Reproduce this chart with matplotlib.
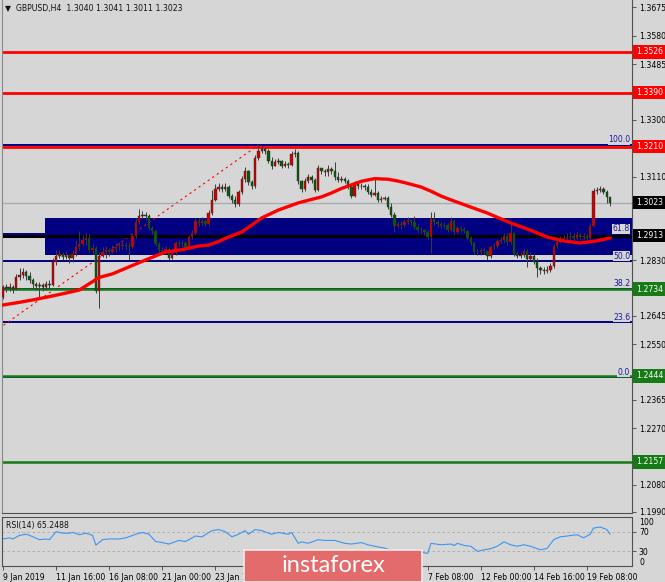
import matplotlib.pyplot as plt
from matplotlib.patches import Rectangle

W, H = 665, 582
BG = '#d6d6d6'

# H4 candles, one entry per bar (bar 0 = 9 Jan 2019 00:00)
first_open = 1.2708
closes = [1.2741, 1.2738, 1.2741, 1.2734, 1.2775, 1.2781, 1.2791, 1.2778, 1.2764, 1.2751,
          1.2744, 1.2748, 1.2741, 1.2751, 1.2748, 1.2825, 1.2845, 1.2851, 1.2841, 1.2848,
          1.2838, 1.2851, 1.2875, 1.2885, 1.2898, 1.2905, 1.2865, 1.2871, 1.2728, 1.2845,
          1.2858, 1.2865, 1.2858, 1.2868, 1.2875, 1.2878, 1.2881, 1.2878, 1.2875, 1.2911,
          1.2958, 1.2978, 1.2982, 1.2978, 1.2938, 1.2928, 1.2885, 1.2865, 1.2861, 1.2868,
          1.2838, 1.2855, 1.2888, 1.2885, 1.2888, 1.2871, 1.2908, 1.2921, 1.2962, 1.2955,
          1.2962, 1.2951, 1.2988, 1.3032, 1.3068, 1.3075, 1.3068, 1.3075, 1.3045, 1.3032,
          1.3018, 1.3058, 1.3102, 1.3128, 1.3092, 1.3078, 1.3172, 1.3195, 1.3202, 1.3195,
          1.3162, 1.3145, 1.3159, 1.3162, 1.3145, 1.3152, 1.3149, 1.3185, 1.3189, 1.3095,
          1.3068, 1.3095, 1.3108, 1.3098, 1.3065, 1.3138, 1.3128, 1.3125, 1.3135, 1.3128,
          1.3108, 1.3098, 1.3102, 1.3095, 1.3075, 1.3045, 1.3085, 1.3078, 1.3078, 1.3075,
          1.3058, 1.3048, 1.3055, 1.3032, 1.3035, 1.3038, 1.3008, 1.2982, 1.2945, 1.2951,
          1.2948, 1.2958, 1.2965, 1.2958, 1.2941, 1.2931, 1.2931, 1.2925, 1.2908, 1.2968,
          1.2958, 1.2951, 1.2945, 1.2948, 1.2931, 1.2962, 1.2925, 1.2938, 1.2935, 1.2928,
          1.2905, 1.2888, 1.2858, 1.2858, 1.2865, 1.2861, 1.2845, 1.2875, 1.2878, 1.2895,
          1.2898, 1.2911, 1.2891, 1.2921, 1.2851, 1.2845, 1.2848, 1.2861, 1.2835, 1.2845,
          1.2825, 1.2805, 1.2798, 1.2795, 1.2798, 1.2811, 1.2878, 1.2891, 1.2901, 1.2905,
          1.2908, 1.2911, 1.2905, 1.2915, 1.2908, 1.2911, 1.2905, 1.2945, 1.3062, 1.3065,
          1.3068, 1.3058, 1.3042, 1.3023]
highs = [1.2748, 1.2751, 1.2754, 1.2748, 1.2785, 1.2805, 1.2805, 1.2798, 1.2791, 1.2771,
         1.2758, 1.2758, 1.2754, 1.2761, 1.2764, 1.2838, 1.2865, 1.2865, 1.2858, 1.2861,
         1.2851, 1.2865, 1.2898, 1.2928, 1.2915, 1.2921, 1.2918, 1.2885, 1.2878, 1.2858,
         1.2875, 1.2878, 1.2871, 1.2881, 1.2888, 1.2891, 1.2895, 1.2891, 1.2891, 1.2921,
         1.2972, 1.3002, 1.2995, 1.2992, 1.2985, 1.2945, 1.2931, 1.2891, 1.2875, 1.2878,
         1.2875, 1.2861, 1.2895, 1.2898, 1.2898, 1.2895, 1.2915, 1.2931, 1.2972, 1.2972,
         1.2975, 1.2968, 1.2998, 1.3065, 1.3085, 1.3088, 1.3085, 1.3088, 1.3082, 1.3052,
         1.3045, 1.3065, 1.3112, 1.3142, 1.3132, 1.3098, 1.3182, 1.3215, 1.3212, 1.3209,
         1.3202, 1.3175, 1.3168, 1.3172, 1.3165, 1.3162, 1.3158, 1.3195, 1.3202, 1.3195,
         1.3098, 1.3105, 1.3118, 1.3115, 1.3105, 1.3148, 1.3138, 1.3135, 1.3148, 1.3142,
         1.3158, 1.3125, 1.3112, 1.3108, 1.3102, 1.3085, 1.3095, 1.3088, 1.3088, 1.3085,
         1.3085, 1.3068, 1.3105, 1.3062, 1.3045, 1.3045, 1.3045, 1.3022, 1.2992, 1.2962,
         1.2962, 1.2968, 1.2975, 1.2968, 1.2978, 1.2951, 1.2941, 1.2935, 1.2931, 1.2992,
         1.2992, 1.2965, 1.2958, 1.2958, 1.2955, 1.2975, 1.2968, 1.2945, 1.2945, 1.2941,
         1.2931, 1.2911, 1.2895, 1.2868, 1.2871, 1.2871, 1.2865, 1.2881, 1.2888, 1.2901,
         1.2908, 1.2921, 1.2921, 1.2958, 1.2925, 1.2861, 1.2858, 1.2868, 1.2868, 1.2858,
         1.2851, 1.2838, 1.2811, 1.2808, 1.2811, 1.2821, 1.2885, 1.2898, 1.2911, 1.2915,
         1.2921, 1.2925, 1.2921, 1.2925, 1.2921, 1.2921, 1.2918, 1.2955, 1.3072, 1.3075,
         1.3078, 1.3075, 1.3065, 1.3041]
lows = [1.2701, 1.2724, 1.2728, 1.2721, 1.2731, 1.2764, 1.2771, 1.2764, 1.2754, 1.2738,
        1.2731, 1.2708, 1.2728, 1.2731, 1.2738, 1.2744, 1.2815, 1.2838, 1.2831, 1.2835,
        1.2821, 1.2825, 1.2845, 1.2865, 1.2878, 1.2881, 1.2858, 1.2851, 1.2721, 1.2671,
        1.2841, 1.2838, 1.2845, 1.2855, 1.2858, 1.2865, 1.2868, 1.2865, 1.2831, 1.2871,
        1.2905, 1.2951, 1.2968, 1.2965, 1.2931, 1.2918, 1.2878, 1.2855, 1.2851, 1.2855,
        1.2831, 1.2835, 1.2848, 1.2875, 1.2875, 1.2865, 1.2865, 1.2901, 1.2915, 1.2945,
        1.2948, 1.2945, 1.2945, 1.2982, 1.3028, 1.3062, 1.3058, 1.3062, 1.3038, 1.3022,
        1.3008, 1.3012, 1.3052, 1.3092, 1.3082, 1.3068, 1.3072, 1.3165, 1.3189, 1.3185,
        1.3155, 1.3135, 1.3145, 1.3152, 1.3138, 1.3142, 1.3138, 1.3145, 1.3175, 1.3085,
        1.3058, 1.3062, 1.3088, 1.3088, 1.3058, 1.3062, 1.3118, 1.3112, 1.3112, 1.3118,
        1.3098, 1.3092, 1.3092, 1.3088, 1.3068, 1.3038, 1.3042, 1.3068, 1.3068, 1.3065,
        1.3052, 1.3042, 1.3045, 1.3025, 1.3025, 1.3032, 1.3002, 1.2975, 1.2925, 1.2938,
        1.2935, 1.2941, 1.2951, 1.2948, 1.2935, 1.2925, 1.2921, 1.2915, 1.2901, 1.2855,
        1.2948, 1.2941, 1.2938, 1.2938, 1.2925, 1.2928, 1.2918, 1.2921, 1.2925, 1.2921,
        1.2898, 1.2881, 1.2851, 1.2848, 1.2848, 1.2851, 1.2831, 1.2838, 1.2868, 1.2871,
        1.2888, 1.2891, 1.2881, 1.2885, 1.2845, 1.2838, 1.2838, 1.2841, 1.2808, 1.2831,
        1.2818, 1.2775, 1.2785, 1.2785, 1.2788, 1.2791, 1.2805, 1.2871, 1.2888, 1.2895,
        1.2898, 1.2901, 1.2895, 1.2901, 1.2898, 1.2901, 1.2898, 1.2901, 1.2941, 1.3052,
        1.3058, 1.3052, 1.3022, 1.3011]

# moving average read at a few bars
ma_bars = [0, 5, 9, 14, 19, 23, 26, 29, 33, 39, 44, 49, 54, 59, 62, 65, 68, 72, 75, 78,
           83, 89, 96, 99, 102, 105, 108, 112, 116, 119, 122, 126, 129, 132, 135, 140,
           146, 153, 159, 164, 169, 174, 179, 183]
ma_vals = [1.2681, 1.2690, 1.2698, 1.2709, 1.2721, 1.2731, 1.2752, 1.2773, 1.2785,
           1.2813, 1.2836, 1.2858, 1.2866, 1.2878, 1.2881, 1.2893, 1.2908, 1.2925,
           1.2948, 1.2972, 1.2998, 1.3022, 1.3042, 1.3055, 1.3070, 1.3082, 1.3094,
           1.3103, 1.3101, 1.3095, 1.3087, 1.3075, 1.3061, 1.3045, 1.3032, 1.3012,
           1.2988, 1.2955, 1.2931, 1.2908, 1.2895, 1.2888, 1.2895, 1.2905]

# RSI(14)
rsi_bars = [0, 2, 3, 5, 7, 8, 11, 13, 14, 16, 18, 20, 21, 23, 25, 27, 28, 30, 32, 35,
            37, 40, 42, 44, 46, 48, 50, 53, 55, 58, 60, 63, 65, 67, 69, 71, 73, 74, 76, 78,
            81, 83, 86, 87, 89, 90, 92, 95, 97, 100, 103, 105, 108, 110, 113, 115, 117, 119,
            122, 124, 126, 128, 129, 132, 135, 136, 137, 139, 141, 143, 145, 147, 149, 151,
            153, 155, 157, 159, 162, 164, 166, 168, 170, 173, 175, 177, 178, 180, 182, 183]
rsi_vals = [55.2, 57.4, 55.2, 62.6, 64.8, 62.6, 53.7, 55.2, 53.7, 70, 67, 67, 68.5, 64, 67,
            62.6, 42.6, 53.7, 55.2, 55.2, 57.4, 64.8, 68.5, 64.8, 50, 47.8, 44.8, 52.2, 50,
            61.1, 59.6, 72.2, 74.4, 70, 59.6, 64.8, 72.2, 64.8, 74.4, 72.2, 64.8, 68.5, 64.8,
            68.5, 46.3, 49.3, 46.3, 53.7, 52.2, 52.2, 46.3, 44.8, 47.8, 43.3, 38.9, 36.7,
            31.5, 28.5, 31.5, 31.5, 28.5, 25.5, 46.3, 43.3, 44.8, 41.8, 46.3, 41.8, 40.4, 30,
            33, 35.2, 40.4, 49.3, 43.3, 40.4, 43.3, 40.4, 33, 35.9, 53.7, 59.6, 61.1, 64,
            57.4, 64.8, 77.4, 79.6, 74.4, 65.2]

# levels / objects
red_levels = [1.3526, 1.3390, 1.3210]
green_levels = [1.2734, 1.2444, 1.2157]
black_level = 1.2913
bid_level = 1.3023
zone_top, zone_bottom, zone_start = 1.2973, 1.2848, 12.7
fib_low, fib_high = 1.2440, 1.3215
fib_start_bar, fib_end_bar = -22, 77
fib_ratios = [0.0, 23.6, 38.2, 50.0, 61.8, 100.0]

# scale labels that stay readable beside the price boxes
price_ticks = [1.3675, 1.3580, 1.3485, 1.3300, 1.3110, 1.2830, 1.2645, 1.2550,
               1.2365, 1.2270, 1.2080, 1.1990]
# time labels left visible by the watermark
time_tick_bars = [0, 16, 32, 48, 64, 128, 144, 160, 176]
time_labels = ['9 Jan 2019', '11 Jan 16:00', '16 Jan 08:00', '21 Jan 00:00', '23 Jan 16:00',
               '7 Feb 08:00', '12 Feb 00:00', '14 Feb 16:00', '19 Feb 08:00']

opens = [first_open] + closes[:-1]
n = len(closes)

fig = plt.figure(figsize=(W / 100, H / 100), dpi=100)
fig.patch.set_facecolor(BG)


def px_axes(left, top, right, bottom):
    return fig.add_axes([left / W, 1 - bottom / H, (right - left) / W, (bottom - top) / H])


ax = px_axes(2, 0, 632, 513)
rx = px_axes(2, 517, 632, 566)
FS = 5.6
for a in (ax, rx):
    a.set_facecolor(BG)
    a.set_xlim(-0.3, 189.6)
    a.yaxis.tick_right()
    a.tick_params(axis='y', direction='out', length=3, width=0.6, pad=2, labelsize=FS, color='#404040')
    for s in a.spines.values():
        s.set_color('#505050')
        s.set_linewidth(0.8)

ax.set_ylim(1.19865, 1.36994)
ax.set_xticks([])
ax.spines['top'].set_visible(False)
ax.spines['left'].set_color('#8a8a8a')
ax.set_yticks(price_ticks)
ax.set_yticklabels(['%.4f' % v for v in price_ticks])

# zone rectangle
ax.add_patch(Rectangle((zone_start, zone_bottom), 200, zone_top - zone_bottom,
                       fc='#000080', ec='none', zorder=1))

# fibonacci levels
rng = fib_high - fib_low
for r in fib_ratios:
    lv = fib_low + rng * r / 100
    ax.axhline(lv, color='#000080', lw=1.4, zorder=2)
    ax.text(0.997, lv + 0.0002, '%.1f' % r, transform=ax.get_yaxis_transform(), ha='right',
            va='bottom', fontsize=FS, color='#1a1a9a', zorder=6,
            bbox=dict(boxstyle='square,pad=0.05', fc=BG, ec='none'))
ax.plot([fib_start_bar, fib_end_bar], [fib_low, fib_high], color='red', lw=0.8,
        ls=(0, (2, 3)), zorder=2)

ax.axhline(bid_level, color='#a4aab2', lw=0.9, zorder=2)
for lv in red_levels:
    ax.axhline(lv, color='#ff0000', lw=2, zorder=2.5)
for lv in green_levels:
    ax.axhline(lv, color='#167a16', lw=1.8, zorder=2.5)
ax.axhline(black_level, color='black', lw=2.2, zorder=2.5)

# candles
for i in range(n):
    o, c, h, l = opens[i], closes[i], highs[i], lows[i]
    ax.vlines(i, min(l, o, c), max(h, o, c), color='#3c3c3c', lw=0.7, zorder=3)
    body = max(abs(c - o), 0.00006)
    col = '#d00000' if c > o else '#0a5a0a'
    ax.add_patch(Rectangle((i - 0.36, min(o, c)), 0.72, body, fc=col, ec='#2a2a2a',
                           lw=0.3, zorder=3.5))

ax.plot(ma_bars, ma_vals, color='#ff0000', lw=2.4, zorder=4, solid_capstyle='round',
        solid_joinstyle='round')

# price label boxes
ytr = ax.get_yaxis_transform()
for lv in red_levels:
    ax.text(1.006, lv, '%.4f' % lv, transform=ytr, ha='left', va='center', fontsize=FS,
            color='white', zorder=7, bbox=dict(boxstyle='square,pad=0.3', fc='#ff0000', ec='none'))
for lv in green_levels:
    ax.text(1.006, lv, '%.4f' % lv, transform=ytr, ha='left', va='center', fontsize=FS,
            color='white', zorder=7, bbox=dict(boxstyle='square,pad=0.3', fc='#167a16', ec='none'))
for lv in (bid_level, black_level):
    ax.text(1.006, lv, '%.4f' % lv, transform=ytr, ha='left', va='center', fontsize=FS,
            color='white', zorder=7, bbox=dict(boxstyle='square,pad=0.3', fc='black', ec='none'))

fig.text(5 / W, 1 - 8 / H, '\u25bc  GBPUSD,H4  1.3040 1.3041 1.3011 1.3023', fontsize=FS,
         va='center', ha='left', color='#101010')

# RSI panel
rx.set_ylim(0, 100)
rx.axhline(70, color='#a8a8a8', lw=0.6, ls=(0, (3, 3)))
rx.axhline(30, color='#a8a8a8', lw=0.6, ls=(0, (3, 3)))
rx.plot(rsi_bars, rsi_vals, color='#3c96f0', lw=0.8)
rx.set_yticks([70, 30])
rx.set_yticklabels(['70', '30'])
rx.text(1.012, 89, '100', transform=rx.get_yaxis_transform(), fontsize=FS, va='center')
rx.text(1.012, 8, '0', transform=rx.get_yaxis_transform(), fontsize=FS, va='center')
rx.text(0.006, 0.82, 'RSI(14) 65.2488', transform=rx.transAxes, fontsize=FS, va='center',
        color='#101010')
rx.set_xticks(time_tick_bars)
rx.set_xticklabels(time_labels)
rx.tick_params(axis='x', direction='out', length=3, width=0.6, pad=2, labelsize=FS, color='#404040')
for lbl in rx.get_xticklabels():
    lbl.set_horizontalalignment('left')

# watermark box
fig.add_artist(Rectangle((244 / W, 0), (422 - 244) / W, 32 / H, transform=fig.transFigure,
                         fc='#e46b6b', ec='#f4eaea', lw=1.2, zorder=10))
fig.text(333 / W, 1 - 566 / H, 'instaforex', fontsize=17, family='Lato', weight='normal',
         color='white', ha='center', va='center', zorder=11)

fig.savefig('out.png', dpi=100, facecolor=BG)
